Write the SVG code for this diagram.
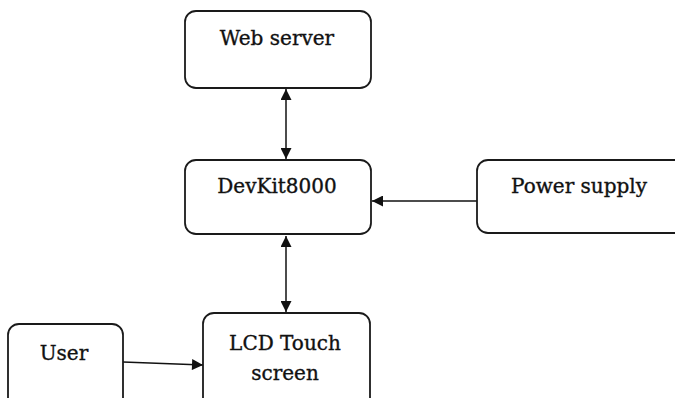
<svg xmlns="http://www.w3.org/2000/svg" width="675" height="398" viewBox="0 0 675 398">
<style>
.box{fill:#fff;stroke:#1a1a1a;stroke-width:1.8}
.lbl{font-family:"DejaVu Serif","Liberation Serif",serif;font-size:20px;fill:#111;stroke:#111;stroke-width:0.35;text-anchor:middle}
.con{stroke:#111;stroke-width:1.5;fill:none}
</style>
<defs>
<marker id="ah" viewBox="0 0 10 10" refX="10" refY="5" markerWidth="12" markerHeight="11" markerUnits="userSpaceOnUse" orient="auto-start-reverse">
<path d="M0,0 L10,5 L0,10 Z" fill="#111"/>
</marker>
</defs>
<rect width="675" height="398" fill="#fff"/>
<g id="connectors">
<line class="con" x1="286" y1="89" x2="286" y2="159" marker-start="url(#ah)" marker-end="url(#ah)"/>
<line class="con" x1="286" y1="236" x2="286" y2="312" marker-start="url(#ah)" marker-end="url(#ah)"/>
<line class="con" x1="477" y1="201" x2="372" y2="201" marker-end="url(#ah)"/>
<line class="con" x1="123" y1="362" x2="203" y2="365" marker-end="url(#ah)"/>
</g>
<g id="web-server">
<rect class="box" x="185" y="11" width="186" height="77" rx="11"/>
<text class="lbl" x="277" y="45">Web server</text>
</g>
<g id="devkit8000">
<rect class="box" x="185" y="160" width="186" height="74" rx="11"/>
<text class="lbl" x="277" y="193">DevKit8000</text>
</g>
<g id="power-supply">
<rect class="box" x="477" y="160" width="220" height="73" rx="11"/>
<text class="lbl" x="579" y="193">Power supply</text>
</g>
<g id="user">
<rect class="box" x="8" y="324" width="115" height="90" rx="11"/>
<text class="lbl" x="64" y="360">User</text>
</g>
<g id="lcd-touch-screen">
<rect class="box" x="203" y="313" width="167" height="100" rx="11"/>
<text class="lbl" x="285" y="350">LCD Touch</text>
<text class="lbl" x="285" y="380">screen</text>
</g>
</svg>
